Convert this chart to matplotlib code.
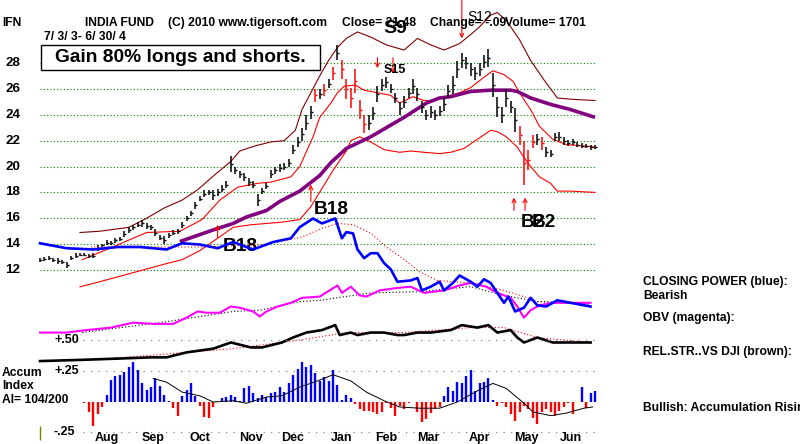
import numpy as np
import matplotlib.pyplot as plt
from matplotlib.patches import Rectangle

plt.rcParams['font.family'] = ['Liberation Sans', 'DejaVu Sans']
plt.rcParams['font.weight'] = 'bold'

# ---- price bars, one every 2 trading days from 7/3/03 ----
bar_days = np.arange(0, 251, 2)
closes = [12.8, 12.85, 12.9, 12.8, 12.7, 12.6, 12.4, 12.9, 13.1, 13.2,
          13.2, 13.1, 13.1, 13.7, 13.9, 14.1, 14.1, 14.3, 14.4, 14.8,
          15.1, 15.3, 15.5, 15.6, 15.4, 15.3, 14.9, 14.5, 14.3, 14.7,
          14.9, 15.0, 15.5, 16.0, 16.4, 17.0, 17.5, 17.9, 18.0, 17.8,
          18.0, 18.3, 18.6, 20.2, 19.7, 19.4, 19.2, 18.8, 18.6, 17.4,
          18.1, 18.5, 19.4, 19.7, 19.9, 20.0, 20.3, 21.3, 21.9, 22.5,
          23.4, 24.2, 25.5, 25.6, 25.9, 26.4, 27.2, 28.8, 27.5, 26.0,
          25.3, 26.6, 24.4, 23.3, 23.4, 24.1, 25.6, 26.3, 26.5, 26.0,
          25.3, 24.5, 25.0, 25.7, 26.2, 25.6, 24.6, 24.0, 24.2, 24.0,
          24.3, 24.8, 25.8, 26.3, 27.5, 28.2, 28.0, 27.5, 27.2, 27.5,
          28.1, 28.4, 26.3, 24.6, 24.0, 25.3, 24.6, 23.6, 22.4, 20.3,
          20.5, 21.9, 22.1, 21.8, 21.1, 21.0, 22.3, 22.3, 22.0, 21.8,
          21.9, 21.7, 21.6, 21.6, 21.5, 21.48]
ranges = [0.3, 0.3, 0.3, 0.3, 0.4, 0.3, 0.5, 0.3, 0.4, 0.3,
          0.3, 0.3, 0.4, 0.5, 0.3, 0.4, 0.3, 0.4, 0.3, 0.5,
          0.4, 0.4, 0.4, 0.5, 0.4, 0.4, 0.5, 0.4, 0.6, 0.4,
          0.4, 0.4, 0.5, 0.4, 0.4, 0.5, 0.4, 0.5, 0.4, 0.8,
          0.5, 0.5, 0.5, 1.2, 0.6, 0.5, 0.6, 0.6, 0.5, 0.9,
          0.5, 0.5, 0.6, 0.5, 0.6, 0.6, 0.6, 0.7, 0.8, 1.0,
          1.2, 1.0, 1.0, 0.8, 0.9, 0.7, 1.0, 1.2, 1.4, 1.6,
          1.6, 1.8, 1.5, 1.4, 1.2, 1.0, 1.2, 0.9, 0.8, 0.7,
          0.8, 1.0, 0.9, 0.8, 1.2, 1.0, 0.9, 0.8, 0.9, 0.8,
          0.8, 1.0, 1.0, 1.4, 1.3, 1.2, 1.0, 1.0, 1.0, 1.0,
          1.0, 1.4, 1.8, 1.6, 1.2, 1.4, 1.0, 1.8, 1.5, 3.4,
          1.5, 1.0, 0.9, 1.0, 0.8, 0.6, 0.6, 0.7, 0.6, 0.5,
          0.4, 0.4, 0.4, 0.3, 0.4, 0.3]
red_days = [124, 128, 132, 136, 138, 140, 142, 144, 146, 216, 218, 220, 222, 226]

# ---- bands and moving average ----
upper_days = [18, 27, 40, 48, 56, 64, 71, 79, 86, 90, 97, 104, 110, 115, 118, 122, 126, 130, 134, 138,
              143, 149, 156, 164, 170, 176, 182, 189, 194, 198, 203, 206, 210, 216, 221, 227, 233, 239, 250]
upper_band = [14.9, 15.0, 15.3, 16.0, 16.8, 17.4, 18.2, 19.4, 20.4, 21.2, 21.6, 21.9, 22.0, 22.8, 24.4, 25.7,
              27.0, 28.2, 29.2, 29.9, 30.4, 30.0, 29.4, 29.0, 29.9, 29.4, 29.0, 29.5, 30.2, 30.8, 31.7, 31.9,
              31.3, 29.8, 28.2, 26.7, 25.3, 25.2, 25.1]
mid_days = [19, 33, 48, 63, 73, 81, 89, 98, 104, 113, 117, 123, 126, 131, 134, 137, 142, 146, 152, 158,
            162, 168, 173, 177, 183, 189, 194, 200, 204, 209, 213, 216, 221, 225, 231, 237, 250]
mid_band = [12.8, 13.8, 14.9, 15.0, 15.9, 17.4, 18.4, 18.7, 18.8, 19.2, 20.0, 22.3, 23.8, 24.9, 25.7, 26.2,
            26.3, 25.9, 25.7, 25.5, 24.9, 25.4, 25.1, 25.1, 25.4, 25.7, 26.1, 26.9, 27.4, 27.1, 26.6, 25.7,
            24.4, 23.1, 22.1, 21.7, 21.5]
low_days = [18, 27, 42, 57, 64, 72, 87, 95, 109, 117, 122, 132, 138, 140, 144, 149, 155, 162, 167, 173,
            180, 185, 191, 197, 203, 206, 210, 215, 218, 221, 225, 230, 233, 239, 250]
low_band = [10.7, 11.1, 11.8, 12.5, 12.8, 13.5, 15.3, 15.5, 15.7, 15.9, 16.9, 19.7, 21.2, 22.0, 22.3, 21.9,
            21.3, 21.1, 21.2, 21.1, 21.0, 21.1, 21.4, 22.1, 22.8, 22.7, 22.3, 21.5, 20.7, 20.0, 19.2, 18.7,
            18.1, 18.1, 18.0]
ma_days = [63, 78, 87, 93, 102, 108, 117, 126, 131, 138, 149, 164, 174, 180, 185, 194, 203, 212, 215, 221,
           230, 239, 250]
ma50 = [14.2, 15.1, 15.6, 16.1, 16.6, 17.3, 18.1, 19.3, 20.3, 21.4, 22.3, 23.8, 24.9, 25.3, 25.4, 25.8,
        25.9, 25.9, 25.8, 25.3, 24.8, 24.4, 23.8]

# ---- indicators (lower scale: rel.str +.50, accum +.25/-.25) ----
cp_days = [0, 12, 24, 35, 45, 57, 64, 72, 80, 87, 96, 105, 113, 117, 123, 127, 133, 136, 138, 141,
           143, 146, 149, 152, 155, 158, 161, 167, 170, 172, 176, 180, 182, 186, 189, 194, 197, 200, 203, 206,
           209, 211, 214, 218, 221, 224, 228, 233, 239, 248]
cp_vals = [1.28, 1.24, 1.23, 1.25, 1.25, 1.23, 1.28, 1.27, 1.24, 1.29, 1.23, 1.29, 1.32, 1.41, 1.48, 1.44,
           1.48, 1.32, 1.37, 1.36, 1.23, 1.16, 1.20, 1.20, 1.12, 1.07, 0.97, 0.98, 1.00, 0.90, 0.93, 0.97,
           0.90, 0.96, 1.02, 0.97, 0.93, 0.99, 0.96, 0.88, 0.80, 0.85, 0.73, 0.76, 0.84, 0.78, 0.77, 0.82,
           0.80, 0.77]
cp_ma_days = [23, 72, 102, 118, 127, 134, 141, 149, 156, 164, 171, 179, 194, 209, 218, 224, 239, 248]
cp_ma = [1.25, 1.25, 1.27, 1.33, 1.40, 1.44, 1.43, 1.36, 1.25, 1.15, 1.05, 0.98, 0.96, 0.90, 0.85, 0.81,
         0.80, 0.79]
obv_days = [0, 12, 21, 32, 42, 51, 60, 66, 71, 75, 81, 86, 90, 96, 99, 102, 107, 113, 118, 126,
            134, 136, 140, 144, 147, 153, 161, 167, 173, 182, 189, 194, 201, 206, 212, 215, 218, 221, 225, 231,
            239, 248]
obv_vals = [0.56, 0.56, 0.58, 0.60, 0.64, 0.63, 0.63, 0.68, 0.73, 0.72, 0.72, 0.77, 0.76, 0.73, 0.69, 0.73,
            0.77, 0.80, 0.84, 0.85, 0.94, 0.88, 0.93, 0.86, 0.85, 0.90, 0.92, 0.93, 0.88, 0.90, 0.94, 0.96,
            0.93, 0.88, 0.84, 0.77, 0.68, 0.74, 0.78, 0.80, 0.80, 0.80]
obv_ma_days = [19, 54, 87, 99, 117, 126, 149, 171, 194, 209, 224, 248]
obv_ma = [0.56, 0.64, 0.73, 0.74, 0.81, 0.82, 0.88, 0.89, 0.93, 0.86, 0.81, 0.79]
rs_days = [0, 19, 35, 50, 57, 66, 78, 86, 95, 100, 109, 114, 120, 127, 133, 135, 140, 143, 149, 155,
           161, 164, 170, 176, 185, 190, 197, 202, 206, 212, 215, 218, 224, 231, 239, 248]
rs_vals = [0.33, 0.34, 0.35, 0.36, 0.36, 0.40, 0.43, 0.48, 0.44, 0.44, 0.48, 0.52, 0.56, 0.58, 0.62, 0.54,
           0.56, 0.54, 0.56, 0.56, 0.54, 0.54, 0.56, 0.56, 0.58, 0.62, 0.60, 0.62, 0.56, 0.58, 0.52, 0.48,
           0.52, 0.48, 0.48, 0.48]
rs_ma_days = [24, 87, 117, 138, 164, 194, 209, 224, 248]
rs_ma = [0.34, 0.43, 0.50, 0.56, 0.56, 0.60, 0.60, 0.52, 0.48]
acc_days = np.arange(20, 251, 2)
acc_vals = [-0.01, -0.08, -0.19, -0.10, -0.04, 0.06, 0.18, 0.21, 0.22, 0.24,
            0.28, 0.32, 0.26, 0.15, 0.10, 0.12, 0.19, 0.13, 0.06, 0.01,
            -0.05, -0.11, 0.05, 0.10, 0.15, 0.05, -0.03, -0.12, -0.13, -0.04,
            0.00, 0.03, 0.04, 0.06, 0.04, 0.01, 0.11, 0.13, 0.07, 0.03,
            0.06, 0.04, 0.07, 0.08, 0.12, 0.08, 0.15, 0.22, 0.27, 0.32,
            0.28, 0.30, 0.23, 0.17, 0.20, 0.17, 0.26, 0.14, 0.02, 0.06,
            0.03, -0.02, -0.06, -0.07, -0.07, -0.08, -0.10, -0.08, -0.01, -0.05,
            -0.11, -0.03, -0.06, -0.01, 0.00, -0.08, -0.16, -0.14, -0.09, -0.06,
            -0.04, 0.05, 0.12, 0.09, 0.16, 0.15, 0.21, 0.26, 0.09, 0.15,
            0.16, 0.19, 0.02, -0.03, -0.01, -0.04, -0.10, -0.15, -0.08, -0.03,
            -0.06, -0.13, -0.18, -0.08, -0.06, -0.08, -0.11, -0.07, -0.04, -0.01,
            -0.10, 0.00, 0.12, -0.05, 0.07, 0.09]
ai_ma_days = [51, 57, 64, 72, 78, 87, 93, 102, 109, 117, 125, 132, 140, 147, 155, 162, 171, 180, 188, 197,
              204, 210, 218, 222, 230, 237, 245, 249]
ai_ma = [0.19, 0.16, 0.08, 0.05, 0.00, 0.01, -0.01, 0.04, 0.05, 0.12, 0.17, 0.22, 0.17, 0.08, 0.01, -0.04,
         -0.05, -0.05, 0.00, 0.09, 0.15, 0.11, -0.01, -0.08, -0.11, -0.09, -0.05, -0.04]

month_names = ['Aug', 'Sep', 'Oct', 'Nov', 'Dec', 'Jan', 'Feb', 'Mar', 'Apr', 'May', 'Jun']
month_starts = [20, 41, 62, 85, 104, 126, 146, 165, 188, 209, 229]
price_ticks = [12, 14, 16, 18, 20, 22, 24, 26, 28]

# signal arrows: (day, tail price, tip price)
buy_arrows = [(80, 14.5, 15.5), (122, 17.3, 18.6), (213.5, 16.6, 17.6), (218.5, 16.6, 17.6)]
sell_arrows = [(152, 28.4, 27.6), (159, 28.4, 27.2), (190, 32.9, 29.9)]

# ---- figure: 800x444 px, x = trading day, 2.22 px per day ----
PXD = 2.22
fig = plt.figure(figsize=(8, 4.44), dpi=100)
ax = fig.add_axes([0, 0, 1, 1])
ax.set_xlim(-40 / PXD, 760 / PXD)
ax.set_ylim(28 - 381 / 12.94, 28 + 63 / 12.94)
ax.axis('off')
ax2 = fig.add_axes([0, 0, 1, 1])
ax2.set_xlim(ax.get_xlim())
ax2.set_ylim(-42 / 124, 402 / 124)
ax2.axis('off')


def ftext(x, y, s, **kw):
    kw.setdefault('fontsize', 8.7)
    kw.setdefault('va', 'center')
    ax2.text(x / 800, 1 - y / 444, s, transform=fig.transFigure, **kw)


# gridlines
ax.hlines(price_ticks, 0, 250, colors='#008000', linestyles=(0, (1, 2)), lw=0.8)
for p in price_ticks:
    ax.text(-12.2, p, str(p), ha='center', va='center', fontsize=9.6)

# bands
ax.plot(upper_days, upper_band, color='#800000', lw=0.8)
ax.plot(mid_days, mid_band, color='#ff0000', lw=0.8)
ax.plot(low_days, low_band, color='#ff0000', lw=0.8)
ax.plot(ma_days, ma50, color='#800080', lw=2.6, solid_capstyle='butt')

# price bars
closes = np.array(closes)
ranges = np.array(ranges)
cols = ['#ff0000' if d in red_days else 'black' for d in bar_days]
ax.vlines(bar_days, closes - ranges / 2, closes + ranges / 2, colors=cols, lw=1.1)
ax.hlines(closes, bar_days, bar_days + 0.9, colors=cols, lw=1.0)

# signal arrows
for d, t0, t1 in buy_arrows + sell_arrows:
    ax.annotate('', xy=(d, t1), xytext=(d, t0),
                arrowprops=dict(arrowstyle='->', color='#ff0000', lw=0.8,
                                mutation_scale=7, shrinkA=0, shrinkB=0))

# indicator lines
ax2.plot(cp_ma_days, cp_ma, color='#ff0000', lw=0.8, ls=(0, (1, 2)))
ax2.plot(obv_ma_days, obv_ma, color='black', lw=0.8, ls=(0, (1, 2)))
ax2.plot(rs_ma_days, rs_ma, color='#ff0000', lw=0.8, ls=(0, (1, 2)))
ax2.plot(obv_days, obv_vals, color='#ff00ff', lw=1.5)
ax2.plot(cp_days, cp_vals, color='#0000ff', lw=1.9)
ax2.plot(rs_days, rs_vals, color='black', lw=1.9)

# reference levels for lower panel
ax2.hlines([0.5, 0.25, -0.242], 19.5, 250, colors='#888888', linestyles=(0, (1, 5)), lw=0.9)
ax2.text(12.2, 0.5, '+.50', ha='center', va='center', fontsize=9)
ax2.text(12.2, 0.25, '+.25', ha='center', va='center', fontsize=9)
ax2.text(10.8, -0.242, '-.25', ha='center', va='center', fontsize=9)
ax2.vlines(0, -0.31, -0.19, colors='#808000', lw=1.0)

# accumulation histogram
acc_vals = np.array(acc_vals)
acc_cols = np.where(acc_vals >= 0, '#0000ff', '#ff0000')
ax2.vlines(acc_days, 0, acc_vals, colors=acc_cols, lw=1.7)
ax2.plot(ai_ma_days, ai_ma, color='black', lw=0.7)

# months
for name, start in zip(month_names, month_starts):
    ax2.text(start + 10, -0.29, name, ha='center', va='center', fontsize=9)

# header
ftext(2, 23, 'IFN')
ftext(85, 23, 'INDIA FUND')
ftext(168, 23, '(C) 2010 www.tigersoft.com')
ftext(342, 23, 'Close= 21.48')
ftext(430, 23, 'Change= -.09')
ftext(505, 23, 'Volume= 1701')
ftext(44, 37, '7/ 3/ 3- 6/ 30/ 4')

box = Rectangle((41 / 800, 1 - 70 / 444), 279 / 800, 25 / 444, transform=fig.transFigure,
                facecolor='white', edgecolor='black', lw=1.0, zorder=5)
ax2.add_patch(box)
ftext(180.5, 57.5, 'Gain 80% longs and shorts.', fontsize=13.8, ha='center', zorder=6)

# signal labels
ax.text(160, 30.7, 'S9', fontsize=14, ha='center', va='center', zorder=8)
ax.text(198, 31.55, 'S12', fontsize=10, fontweight='normal', ha='center', va='center', zorder=8)
ax.text(160, 27.45, 'S15', fontsize=9, ha='center', va='center', zorder=8)
ax.text(90, 13.8, 'B18', fontsize=13.7, ha='center', va='center', zorder=8)
ax.text(131, 16.7, 'B18', fontsize=13.7, ha='center', va='center', zorder=8)
ax.text(222, 15.7, 'B2', fontsize=13.7, ha='center', va='center', zorder=8)
ax.text(227, 15.7, 'B2', fontsize=13.7, ha='center', va='center', zorder=8)

# side notes
ftext(2, 373, 'Accum')
ftext(2, 386, 'Index')
ftext(2, 400, 'AI= 104/200')
ftext(643, 282, 'CLOSING POWER (blue):')
ftext(643, 296, 'Bearish')
ftext(643, 318, 'OBV (magenta):')
ftext(643, 352, 'REL.STR..VS DJI (brown):')
ftext(643, 408, 'Bullish: Accumulation Rising')

fig.savefig('out.png', dpi=100)
